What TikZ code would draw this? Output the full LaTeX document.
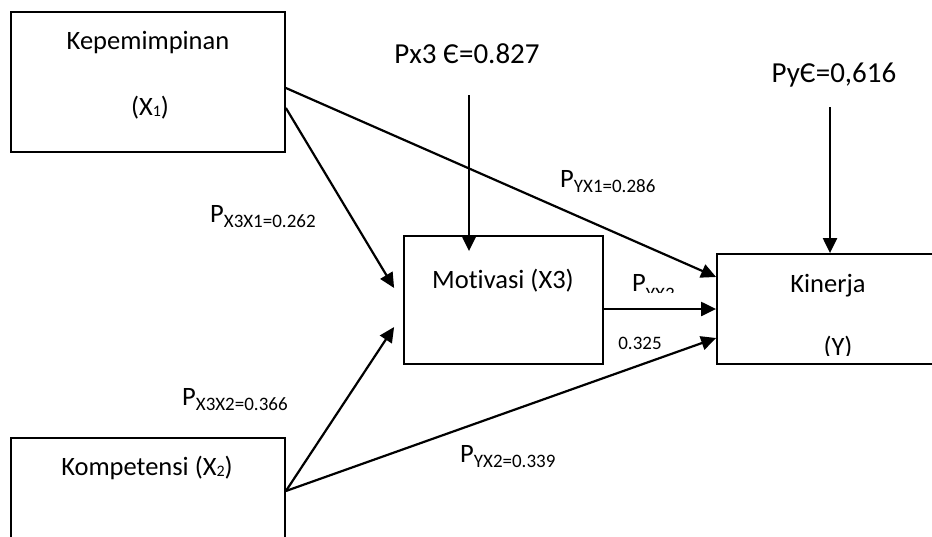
\documentclass[tikz,border=0pt]{standalone}
\usepackage{fontspec}
\setmainfont{Carlito}[Ligatures=NoCommon]
\usetikzlibrary{arrows.meta}

\newcommand{\boxfont}{\fontsize{26.5}{32}\selectfont}
\newcommand{\errfont}{\fontsize{29}{34}\selectfont}
\newcommand{\coef}[2][5pt]{P\raisebox{-#1}{\fontsize{19}{22}\selectfont #2}}
\newcommand{\smallsub}[1]{\raisebox{-1pt}{\fontsize{16}{18}\selectfont #1}}

\begin{document}
\begin{tikzpicture}[x=1pt,y=-1pt,
  var/.style={draw,line width=1.8pt,inner sep=0pt},
  txt/.style={inner sep=0pt,anchor=base,font=\boxfont},
  coeflabel/.style={inner sep=0pt,anchor=base west,font=\boxfont},
  path/.style={line width=2.2pt,-{Triangle[length=15pt,width=14pt]}}]
\useasboundingbox (0,0) rectangle (932,536);
\clip (0,0) rectangle (932,536);

\node[var,minimum width=274pt,minimum height=140pt] (x1) at (148,82) {};
\node[var,minimum width=274pt,minimum height=140pt] (x2) at (148,508) {};
\node[var,minimum width=199pt,minimum height=128pt] (mot) at (503.5,300) {};
\node[var,minimum width=224pt,minimum height=110pt] (kin) at (829,309) {};

\node[txt] (x1name) at (148,49) {Kepemimpinan};
\node[txt] (x1sym) at (150,115) {(X\smallsub{1})};
\node[txt] (x2name) at (147,475) {Kompetensi (X\smallsub{2})};
\node[txt] (motname) at (503,288) {Motivasi (X3)};
\node[txt] (kinname) at (828,292) {Kinerja};
\begin{scope}
\clip (717,254) rectangle (932,355.5);
\node[txt] (kinsym) at (838,355) {(Y)};
\end{scope}

\node[txt,font=\errfont] (px3) at (467,63) {Px3 Є=0.827};
\node[txt,font=\errfont] (pye) at (834,82) {PyЄ=0,616};
\coordinate (e1) at (469,95);
\coordinate (e2) at (830,107);

\node[coeflabel] (pyx1) at (560,187) {\coef{YX1=0.286}};
\node[coeflabel] (px3x1) at (210,222) {\coef{X3X1=0.262}};
\node[coeflabel] (px3x2) at (182,405) {\coef{X3X2=0.366}};
\node[coeflabel] (pyx2) at (460,462) {\coef{YX2=0.339}};
\begin{scope}
\clip (620,260) rectangle (716,292.5);
\node[coeflabel] (pyx3) at (632,291) {\coef[9pt]{YX3}};
\end{scope}
\node[inner sep=0pt,font=\fontsize{19}{22}\selectfont] (pyx3val) at (640,343) {0.325};

\draw[path] ([yshift=-6pt]x1.east) -- ([yshift=32pt]kin.west);
\draw[path] ([yshift=-26pt]x1.east) -- ([xshift=-9pt,yshift=12pt]mot.west);
\draw[path] ([yshift=17pt]x2.east) -- ([xshift=-9pt,yshift=-27pt]mot.west);
\draw[path] ([yshift=17pt]x2.east) -- ([yshift=-29pt]kin.west);
\draw[path] ([yshift=-9pt]mot.east) -- (kin.west);
\draw[path] (e1) -- ([xshift=-34.5pt,yshift=-16pt]mot.north);
\draw[path] (e2) -- ([xshift=1pt]kin.north);

\end{tikzpicture}
\end{document}
